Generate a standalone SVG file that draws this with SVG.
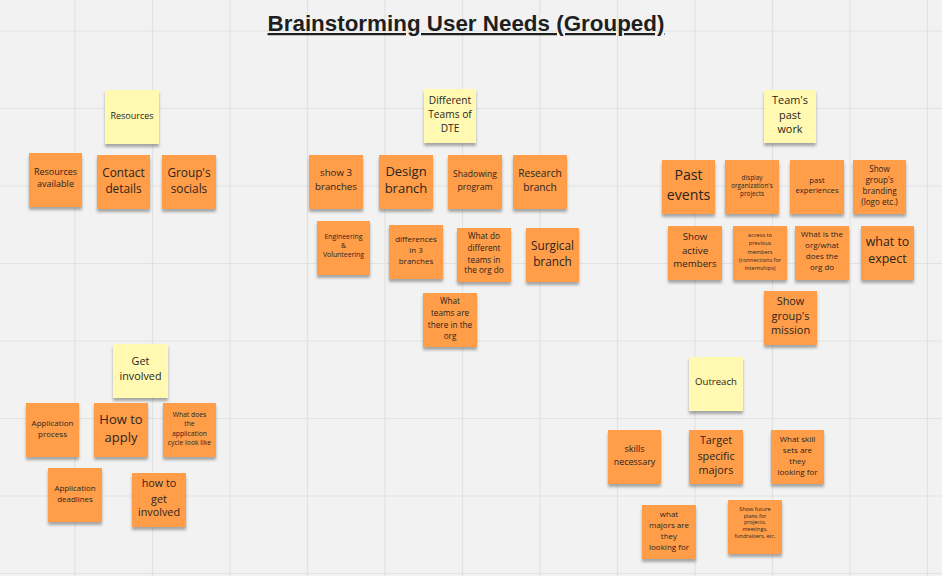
<svg xmlns="http://www.w3.org/2000/svg" width="942" height="576" viewBox="0 0 942 576">
<defs>
<filter id="sh" x="-20%" y="-20%" width="140%" height="150%">
<feDropShadow dx="0" dy="3" stdDeviation="1.6" flood-color="#000" flood-opacity="0.32"/>
</filter>
</defs>
<style>
.bg{fill:#f2f2f2}
.grid line{stroke:#e2e2e2;stroke-width:1.2}
.o{fill:#ff9d48;filter:url(#sh)}
.y{fill:#fff9b1;filter:url(#sh)}
text{font-family:"Open Sans","Noto Sans","Liberation Sans",sans-serif;fill:#2b2520;text-anchor:middle}
.title{font-family:"Liberation Sans",Arial,sans-serif;font-weight:bold;font-size:22.4px;fill:#1f1f1f;text-decoration:underline}
</style>
<rect class="bg" x="0" y="0" width="942" height="576"/>
<g class="grid">
<line x1="75" y1="0" x2="75" y2="576"/><line x1="152.5" y1="0" x2="152.5" y2="576"/><line x1="230" y1="0" x2="230" y2="576"/><line x1="307.5" y1="0" x2="307.5" y2="576"/><line x1="385" y1="0" x2="385" y2="576"/><line x1="462.5" y1="0" x2="462.5" y2="576"/><line x1="540" y1="0" x2="540" y2="576"/><line x1="617.5" y1="0" x2="617.5" y2="576"/><line x1="695" y1="0" x2="695" y2="576"/><line x1="772.5" y1="0" x2="772.5" y2="576"/><line x1="850" y1="0" x2="850" y2="576"/><line x1="927.5" y1="0" x2="927.5" y2="576"/>
<line x1="0" y1="31" x2="942" y2="31"/><line x1="0" y1="108.5" x2="942" y2="108.5"/><line x1="0" y1="186" x2="942" y2="186"/><line x1="0" y1="263.5" x2="942" y2="263.5"/><line x1="0" y1="341" x2="942" y2="341"/><line x1="0" y1="418.5" x2="942" y2="418.5"/><line x1="0" y1="496" x2="942" y2="496"/><line x1="0" y1="573.5" x2="942" y2="573.5"/>
</g>
<text class="title" x="466" y="31">Brainstorming User Needs (Grouped)</text>
<g id="connectors"/>

<!-- Resources group -->
<g id="resources"><rect class="y" x="105" y="90" width="54" height="54"/><text font-size="9" x="132" y="118.6">Resources</text></g>
<g id="resources-available"><rect class="o" x="29" y="153" width="53" height="54"/><text font-size="9"><tspan x="55.5" y="175.2">Resources</tspan><tspan x="55.5" y="187.2">available</tspan></text></g>
<g id="contact-details"><rect class="o" x="97" y="155" width="53" height="54"/><text font-size="11.8"><tspan x="123.5" y="176.5">Contact</tspan><tspan x="123.5" y="193.1">details</tspan></text></g>
<g id="groups-socials"><rect class="o" x="162" y="155" width="54" height="54"/><text font-size="11.8"><tspan x="189" y="176.5">Group's</tspan><tspan x="189" y="193.1">socials</tspan></text></g>

<!-- Different Teams group -->
<g id="different-teams"><rect class="y" x="424" y="89" width="52" height="54"/><text font-size="10.2"><tspan x="450" y="104">Different</tspan><tspan x="450" y="118">Teams of</tspan><tspan x="450" y="132">DTE</tspan></text></g>
<g id="show-3-branches"><rect class="o" x="309" y="155" width="54" height="54"/><text font-size="9.7"><tspan x="336" y="176.4">show 3</tspan><tspan x="336" y="190.4">branches</tspan></text></g>
<g id="design-branch"><rect class="o" x="379" y="155" width="54" height="54"/><text font-size="13"><tspan x="406" y="175.9">Design</tspan><tspan x="406" y="193.2">branch</tspan></text></g>
<g id="shadowing-program"><rect class="o" x="448" y="155" width="54" height="54"/><text font-size="8.6"><tspan x="475" y="177.1">Shadowing</tspan><tspan x="475" y="189.5">program</tspan></text></g>
<g id="research-branch"><rect class="o" x="513" y="155" width="54" height="54"/><text font-size="10.2"><tspan x="540" y="176.6">Research</tspan><tspan x="540" y="190.6">branch</tspan></text></g>
<g id="engineering-volunteering"><rect class="o" x="317" y="221" width="53" height="54"/><text font-size="6.9"><tspan x="343.5" y="238.9">Engineering</tspan><tspan x="343.5" y="247.7">&amp;</tspan><tspan x="343.5" y="257.2">Volunteering</tspan></text></g>
<g id="differences-3-branches"><rect class="o" x="389" y="225" width="54" height="54"/><text font-size="8"><tspan x="416" y="241.6">differences</tspan><tspan x="416" y="253.3">in 3</tspan><tspan x="416" y="264.3">branches</tspan></text></g>
<g id="what-do-teams-do"><rect class="o" x="457" y="228" width="54" height="54"/><text font-size="8.2"><tspan x="484" y="239.3">What do</tspan><tspan x="484" y="250.9">different</tspan><tspan x="484" y="262.6">teams in</tspan><tspan x="484" y="273.3">the org do</tspan></text></g>
<g id="surgical-branch"><rect class="o" x="526" y="228" width="53" height="54"/><text font-size="11.8"><tspan x="552.5" y="249.5">Surgical</tspan><tspan x="552.5" y="265.5">branch</tspan></text></g>
<g id="what-teams-are-there"><rect class="o" x="423" y="293" width="54" height="54"/><text font-size="8.2"><tspan x="450" y="304.3">What</tspan><tspan x="450" y="315.9">teams are</tspan><tspan x="450" y="327.6">there in the</tspan><tspan x="450" y="339.3">org</tspan></text></g>

<!-- Team's past work group -->
<g id="teams-past-work"><rect class="y" x="764" y="90" width="52" height="53"/><text font-size="10.9"><tspan x="790" y="103.5">Team's</tspan><tspan x="790" y="118.5">past</tspan><tspan x="790" y="132.8">work</tspan></text></g>
<g id="past-events"><rect class="o" x="662" y="160" width="53" height="54"/><text font-size="14.2"><tspan x="688.5" y="180.2">Past</tspan><tspan x="688.5" y="199.5">events</tspan></text></g>
<g id="display-projects"><rect class="o" x="725" y="160" width="54" height="54"/><text font-size="6.4"><tspan x="752" y="179.9">display</tspan><tspan x="752" y="187.7">organization's</tspan><tspan x="752" y="195.5">projects</tspan></text></g>
<g id="past-experiences"><rect class="o" x="790" y="160" width="54" height="54"/><text font-size="7.7"><tspan x="817" y="182.5">past</tspan><tspan x="817" y="192.5">experiences</tspan></text></g>
<g id="show-branding"><rect class="o" x="853" y="160" width="53" height="54"/><text font-size="8.1"><tspan x="879.5" y="171.6">Show</tspan><tspan x="879.5" y="182.6">group's</tspan><tspan x="879.5" y="193.9">branding</tspan><tspan x="879.5" y="205.3">(logo etc.)</tspan></text></g>
<g id="show-active-members"><rect class="o" x="668" y="226" width="54" height="54"/><text font-size="9.7"><tspan x="695" y="239.8">Show</tspan><tspan x="695" y="253.8">active</tspan><tspan x="695" y="267.4">members</tspan></text></g>
<g id="access-previous-members"><rect class="o" x="733" y="226" width="54" height="54"/><text font-size="5.6"><tspan x="760" y="236.8">access to</tspan><tspan x="760" y="245.1">previous</tspan><tspan x="760" y="253.5">members</tspan><tspan x="760" y="261.8">(connections for</tspan><tspan x="760" y="270.1">internships)</tspan></text></g>
<g id="what-is-the-org"><rect class="o" x="795" y="226" width="54" height="54"/><text font-size="8"><tspan x="822" y="236.9">What is the</tspan><tspan x="822" y="248.3">org/what</tspan><tspan x="822" y="259.3">does the</tspan><tspan x="822" y="270.3">org do</tspan></text></g>
<g id="what-to-expect"><rect class="o" x="861" y="226" width="53" height="54"/><text font-size="12.4"><tspan x="887.5" y="246.3">what to</tspan><tspan x="887.5" y="263">expect</tspan></text></g>
<g id="show-mission"><rect class="o" x="764" y="291" width="53" height="54"/><text font-size="10.9"><tspan x="790.5" y="305.2">Show</tspan><tspan x="790.5" y="320.2">group's</tspan><tspan x="790.5" y="334.2">mission</tspan></text></g>

<!-- Get involved group -->
<g id="get-involved"><rect class="y" x="113" y="344" width="55" height="54"/><text font-size="10.8"><tspan x="140.5" y="365.2">Get</tspan><tspan x="140.5" y="379.8">involved</tspan></text></g>
<g id="application-process"><rect class="o" x="26" y="403" width="53" height="54"/><text font-size="8"><tspan x="52.5" y="425.9">Application</tspan><tspan x="52.5" y="436.9">process</tspan></text></g>
<g id="how-to-apply"><rect class="o" x="94" y="403" width="54" height="54"/><text font-size="13"><tspan x="121" y="423.5">How to</tspan><tspan x="121" y="441.9">apply</tspan></text></g>
<g id="application-cycle"><rect class="o" x="163" y="403" width="53" height="54"/><text font-size="6.8"><tspan x="189.5" y="416.5">What does</tspan><tspan x="189.5" y="425.9">the</tspan><tspan x="189.5" y="435.9">application</tspan><tspan x="189.5" y="444.9">cycle look like</tspan></text></g>
<g id="application-deadlines"><rect class="o" x="48" y="468" width="54" height="54"/><text font-size="7.9"><tspan x="75" y="490.8">Application</tspan><tspan x="75" y="501.8">deadlines</tspan></text></g>
<g id="how-to-get-involved"><rect class="o" x="132" y="473" width="54" height="54"/><text font-size="10.8"><tspan x="159" y="486.8">how to</tspan><tspan x="159" y="502.8">get</tspan><tspan x="159" y="516.2">involved</tspan></text></g>

<!-- Outreach group -->
<g id="outreach"><rect class="y" x="689" y="357" width="54" height="54"/><text font-size="9.6" x="716" y="385.4">Outreach</text></g>
<g id="skills-necessary"><rect class="o" x="608" y="430" width="53" height="54"/><text font-size="9"><tspan x="634.5" y="452.2">skills</tspan><tspan x="634.5" y="465.2">necessary</tspan></text></g>
<g id="target-majors"><rect class="o" x="689" y="430" width="54" height="54"/><text font-size="10.8"><tspan x="716" y="444.2">Target</tspan><tspan x="716" y="459.5">specific</tspan><tspan x="716" y="474.2">majors</tspan></text></g>
<g id="skill-sets"><rect class="o" x="771" y="430" width="53" height="54"/><text font-size="8"><tspan x="797.5" y="441.6">What skill</tspan><tspan x="797.5" y="452.9">sets are</tspan><tspan x="797.5" y="464.3">they</tspan><tspan x="797.5" y="475.3">looking for</tspan></text></g>
<g id="what-majors"><rect class="o" x="642" y="505" width="54" height="54"/><text font-size="8"><tspan x="669" y="516.9">what</tspan><tspan x="669" y="528.3">majors are</tspan><tspan x="669" y="539.3">they</tspan><tspan x="669" y="550.3">looking for</tspan></text></g>
<g id="future-plans"><rect class="o" x="728" y="500" width="54" height="54"/><text font-size="5.5"><tspan x="755" y="511.1">Show future</tspan><tspan x="755" y="517.6">plans for</tspan><tspan x="755" y="524.1">projects,</tspan><tspan x="755" y="530.8">meetings,</tspan><tspan x="755" y="537.5">fundraisers, etc.</tspan></text></g>
</svg>
